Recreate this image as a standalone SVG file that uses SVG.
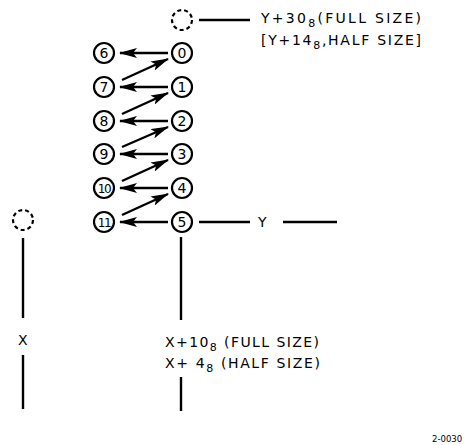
<svg xmlns="http://www.w3.org/2000/svg" width="470" height="445" viewBox="0 0 470 445">
<style>
.n{fill:#fff;stroke:#000;stroke-width:2.2}
.d{fill:none;stroke:#000;stroke-width:2.2;stroke-dasharray:4,3}
.t{font-family:"DejaVu Sans","Liberation Sans",sans-serif;font-size:14px;fill:#000;text-anchor:middle}
.l{font-family:"DejaVu Sans","Liberation Sans",sans-serif;font-size:14px;fill:#000}
.s{font-size:11px}
.c line{stroke:#000;stroke-width:2.4}
.a{marker-end:url(#ah)}
</style>
<defs>
<marker id="ah" viewBox="0 0 18 10" refX="17" refY="5" markerWidth="18" markerHeight="10" markerUnits="userSpaceOnUse" orient="auto">
<path d="M0,0 L18,5 L0,10 L4,5 Z" fill="#000"/>
</marker>
</defs>
<g class="c" id="connectors">
<line x1="199" y1="20" x2="250" y2="20"/>
<line class="a" x1="168" y1="53" x2="120" y2="53"/>
<line class="a" x1="168" y1="87" x2="120" y2="87"/>
<line class="a" x1="168" y1="121" x2="120" y2="121"/>
<line class="a" x1="168" y1="154" x2="120" y2="154"/>
<line class="a" x1="168" y1="188" x2="120" y2="188"/>
<line class="a" x1="168" y1="222" x2="120" y2="222"/>
<line class="a" x1="122" y1="80" x2="168" y2="59"/>
<line class="a" x1="122" y1="114" x2="168" y2="93"/>
<line class="a" x1="122" y1="147" x2="168" y2="127"/>
<line class="a" x1="122" y1="181" x2="168" y2="160"/>
<line class="a" x1="122" y1="215" x2="168" y2="194"/>
<line x1="199" y1="222" x2="250" y2="222"/>
<line x1="283" y1="222" x2="337" y2="222"/>
<line x1="181" y1="237" x2="181" y2="320"/>
<line x1="181" y1="377" x2="181" y2="411"/>
<line x1="23" y1="238" x2="23" y2="318"/>
<line x1="23" y1="355" x2="23" y2="409"/>
</g>
<g id="top"><circle class="d" cx="182" cy="20" r="10"/></g>
<g id="left"><circle class="d" cx="23" cy="220" r="10"/></g>
<g id="n0"><circle class="n" cx="182" cy="53" r="10"/><text class="t" x="182" y="58">0</text></g>
<g id="n1"><circle class="n" cx="182" cy="87" r="10"/><text class="t" x="182" y="92">1</text></g>
<g id="n2"><circle class="n" cx="182" cy="121" r="10"/><text class="t" x="182" y="126">2</text></g>
<g id="n3"><circle class="n" cx="182" cy="154" r="10"/><text class="t" x="182" y="159">3</text></g>
<g id="n4"><circle class="n" cx="182" cy="188" r="10"/><text class="t" x="182" y="193">4</text></g>
<g id="n5"><circle class="n" cx="182" cy="222" r="10"/><text class="t" x="182" y="227">5</text></g>
<g id="n6"><circle class="n" cx="104" cy="53" r="10"/><text class="t" x="104" y="58">6</text></g>
<g id="n7"><circle class="n" cx="104" cy="87" r="10"/><text class="t" x="104" y="92">7</text></g>
<g id="n8"><circle class="n" cx="104" cy="121" r="10"/><text class="t" x="104" y="126">8</text></g>
<g id="n9"><circle class="n" cx="104" cy="154" r="10"/><text class="t" x="104" y="159">9</text></g>
<g id="n10"><circle class="n" cx="104" cy="188" r="10"/><text class="t" x="104" y="192.5" style="font-size:12px;letter-spacing:-1.5px">10</text></g>
<g id="n11"><circle class="n" cx="104" cy="222" r="10"/><text class="t" x="104" y="226.5" style="font-size:12px;letter-spacing:-1.5px">11</text></g>
<g id="labels">
<text class="l" x="261" y="23" textLength="160" lengthAdjust="spacing">Y+30<tspan class="s" dy="4">8</tspan><tspan dy="-4">(FULL SIZE)</tspan></text>
<text class="l" x="261" y="45" textLength="160" lengthAdjust="spacing">[Y+14<tspan class="s" dy="4">8</tspan><tspan dy="-4">,HALF SIZE]</tspan></text>
<text class="l" x="258" y="227">Y</text>
<text class="l" x="18" y="345">X</text>
<text class="l" x="165" y="347" textLength="154" lengthAdjust="spacing">X+10<tspan class="s" dy="4">8</tspan><tspan dy="-4"> (FULL SIZE)</tspan></text>
<text class="l" x="165" y="368" textLength="155" lengthAdjust="spacing">X+ 4<tspan class="s" dy="4">8</tspan><tspan dy="-4"> (HALF SIZE)</tspan></text>
<text class="l" x="432" y="442" style="font-size:8.5px">2-0030</text>
</g>
</svg>
